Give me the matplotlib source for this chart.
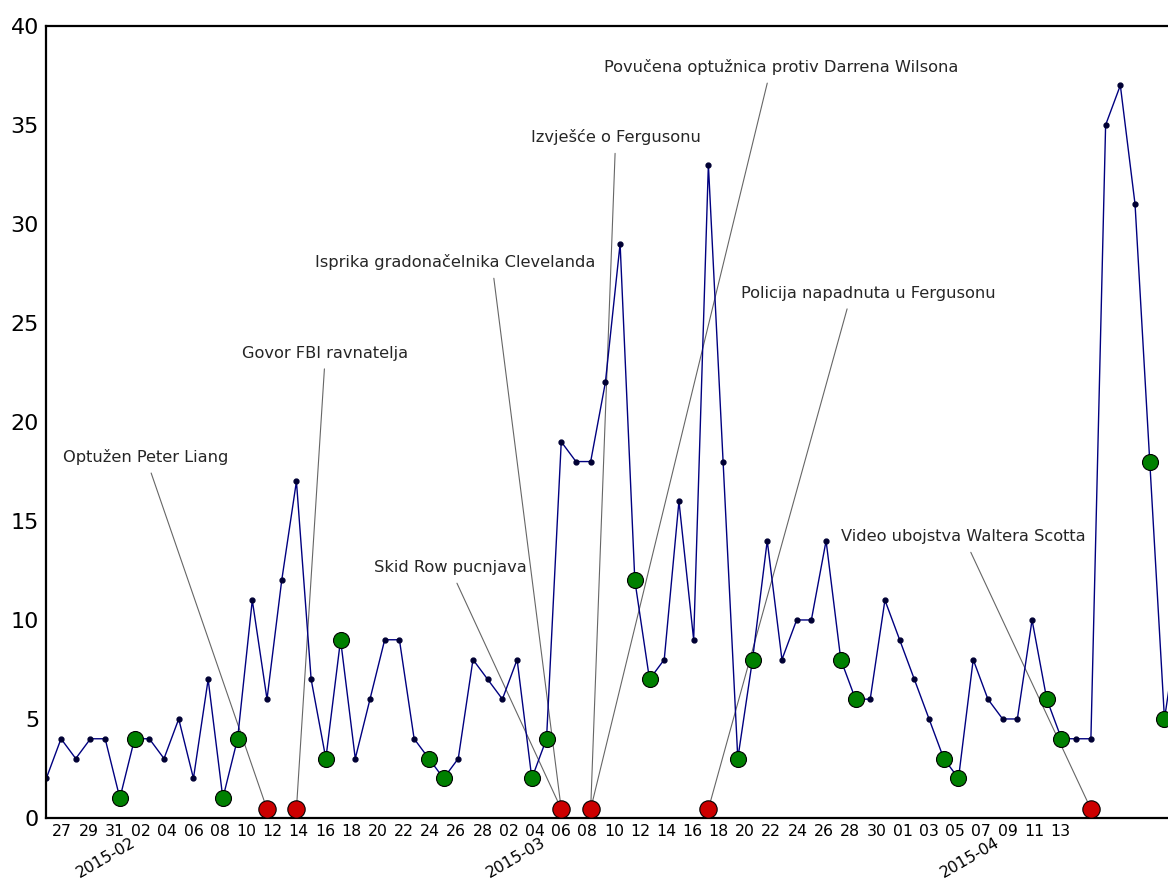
import numpy as np
import matplotlib
matplotlib.use("Agg")
import matplotlib.pyplot as plt

# daily counts starting 2015-01-26
counts = [2, 4, 3, 4, 4, 1, 4, 4, 3, 5,
          2, 7, 1, 4, 11, 6, 12, 17, 7, 3,
          9, 3, 6, 9, 9, 4, 3, 2, 3, 8,
          7, 6, 8, 2, 4, 19, 18, 18, 22, 29,
          12, 7, 8, 16, 9, 33, 18, 3, 8, 14,
          8, 10, 10, 14, 8, 6, 6, 11, 9, 7,
          5, 3, 2, 8, 6, 5, 5, 10, 6, 4,
          4, 4, 35, 37, 31, 18, 5, 10]

# days highlighted in green (weekends)
green_days = [5, 6, 12, 13, 19, 20, 26, 27, 33, 34, 40, 41, 47, 48,
              54, 55, 61, 62, 68, 69, 75, 76]

# events (day index, label, label position)
event_days = [15, 17, 35, 37, 37, 45, 35, 71]
event_labels = ["Optužen Peter Liang",
                "Govor FBI ravnatelja",
                "Isprika gradonačelnika Clevelanda",
                "Izvješće o Fergusonu",
                "Povučena optužnica protiv Darrena Wilsona",
                "Policija napadnuta u Fergusonu",
                "Skid Row pucnjava",
                "Video ubojstva Waltera Scotta"]
label_x = [6.75, 18.97, 27.8, 38.7, 49.92, 55.9, 27.43, 62.35]
label_y = [18.23, 23.48, 28.08, 34.39, 37.93, 26.5, 12.63, 14.19]
line_from = [0.5, 0.5, 0.63, 0.5, 0.473, 0.432, 0.5, 0.5]
event_level = 0.45

tick_labels = ["27", "29", "31", "02", "04", "06", "08", "10", "12", "14",
               "16", "18", "20", "22", "24", "26", "28", "02", "04", "06",
               "08", "10", "12", "14", "16", "18", "20", "22", "24", "26",
               "28", "30", "01", "03", "05", "07", "09", "11", "13"]
month_labels = ["2015-02", "2015-03", "2015-04"]
month_x = [4.03, 31.9, 62.8]

x = np.arange(len(counts))
y = np.array(counts)

fig = plt.figure(figsize=(11.68, 8.92), dpi=100)
ax = fig.add_axes([0.0394, 0.083, 0.9606, 0.8879])

ax.plot(x, y, color="navy", lw=1, marker="o", ms=3.5, mfc="#000033", mec="#000033", zorder=2)
ax.plot(x[green_days], y[green_days], "o", color="green", mec="black", mew=0.8, ms=11.5, zorder=3)

uniq = sorted(set(event_days))
ax.plot(uniq, [event_level] * len(uniq), "o", color="#cc0000", mec="black", mew=0.8, ms=12.5, zorder=4)

for d, lab, tx, ty, rp in zip(event_days, event_labels, label_x, label_y, line_from):
    ax.annotate(lab, xy=(d, event_level), xytext=(tx, ty), ha="center", va="center",
                fontsize=11.7, color="#262626",
                arrowprops=dict(arrowstyle="-", color="#666666", lw=0.8, shrinkA=4, shrinkB=3,
                                relpos=(rp, 0.5)),
                zorder=1)

# tick spacing as drawn in the original figure
tick_pos = 0.195 + 0.8924 * np.arange(1, 2 * len(tick_labels), 2)
ax.set_xticks(tick_pos)
ax.set_xticklabels(tick_labels, fontsize=11.3)
ax.set_yticks(range(0, 41, 5))
ax.tick_params(axis="y", labelsize=16, length=0, pad=5)
ax.tick_params(axis="x", length=0, pad=4)

for m, mx in zip(month_labels, month_x):
    ax.text(mx, -0.0505, m, transform=ax.get_xaxis_transform(), rotation=30,
            ha="center", va="center", fontsize=11.3)

ax.set_xlim(-0.02, 76.24)
ax.set_ylim(0, 40)
ax.spines["right"].set_visible(False)
for s in ["left", "top", "bottom"]:
    ax.spines[s].set_linewidth(1.6)

fig.savefig("out.png", dpi=100)
